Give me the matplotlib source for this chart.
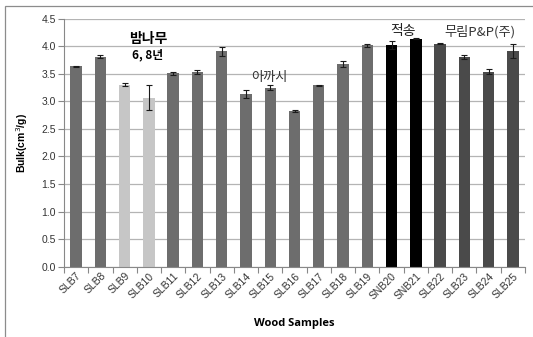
import matplotlib.pyplot as plt
import numpy as np
from matplotlib.patches import Rectangle

samples = ['SLB7', 'SLB8', 'SLB9', 'SLB10', 'SLB11', 'SLB12', 'SLB13', 'SLB14', 'SLB15',
           'SLB16', 'SLB17', 'SLB18', 'SLB19', 'SNB20', 'SNB21', 'SLB22', 'SLB23', 'SLB24', 'SLB25']
bulk = [3.64, 3.81, 3.30, 3.07, 3.51, 3.53, 3.91, 3.13, 3.25,
        2.82, 3.29, 3.68, 4.02, 4.02, 4.14, 4.05, 3.81, 3.54, 3.91]
err = [0.01, 0.03, 0.03, 0.23, 0.03, 0.04, 0.08, 0.07, 0.04,
       0.02, 0.01, 0.06, 0.03, 0.07, 0.01, 0.01, 0.04, 0.05, 0.13]
groups = ['mid', 'mid', 'light', 'light', 'mid', 'mid', 'mid', 'mid', 'mid',
          'mid', 'mid', 'mid', 'mid', 'black', 'black', 'dark', 'dark', 'dark', 'dark']
group_colors = {'mid': '#6d6d6d', 'light': '#c6c6c6', 'black': '#000000', 'dark': '#4a4a4a'}

kor = ['Noto Sans CJK KR', 'DejaVu Sans']
plt.rcParams['font.family'] = ['Liberation Sans', 'DejaVu Sans']

fig = plt.figure(figsize=(5.33, 3.37), dpi=100)
ax = fig.add_axes([64 / 533, 1 - 266.7 / 337, 461 / 533, 248 / 337])

x = np.arange(len(samples))
colors = [group_colors[g] for g in groups]
ax.bar(x, bulk, width=0.47, color=colors, zorder=2)
ax.errorbar(x, bulk, yerr=err, fmt='none', ecolor='#1a1a1a', elinewidth=0.8,
            capsize=2.5, capthick=0.8, zorder=3)

ax.set_xlim(-0.5, len(samples) - 0.5)
ax.set_ylim(0, 4.5)
ax.set_yticks(np.arange(0, 4.51, 0.5))
ax.set_yticklabels([f"{v:.1f}" for v in np.arange(0, 4.51, 0.5)], fontsize=7.5, color='#333333')
ax.yaxis.grid(True, color='#b4b4b4', linewidth=0.9, zorder=0)
ax.set_axisbelow(True)

ax.set_xticks(x)
ax.set_xticklabels(samples, rotation=45, ha='right', rotation_mode='anchor', fontsize=7.5, color='#333333')
ax.tick_params(axis='x', length=0, pad=3)
ax.set_xticks(np.arange(-0.5, len(samples)), minor=True)
ax.tick_params(axis='x', which='minor', length=4, color='#888888', width=0.8)
ax.tick_params(axis='y', length=4, color='#888888', width=0.8, pad=2)

for side in ['top', 'right']:
    ax.spines[side].set_visible(False)
for side in ['left', 'bottom']:
    ax.spines[side].set_color('#888888')
    ax.spines[side].set_linewidth(0.8)

ax.set_ylabel('Bulk(cm$^3$/g)', fontsize=7.5, fontweight='bold', labelpad=8)
ax.set_xlabel('Wood Samples', fontsize=8, fontweight='bold', labelpad=12,
              family=['Open Sans', 'DejaVu Sans'])

# group labels
ax.text(2.95, 4.14, '밤나무', ha='center', va='center', fontsize=10, fontweight='bold', family=kor)
ax.text(2.95, 3.84, '6, 8년', ha='center', va='center', fontsize=8.5, fontweight='bold', family=kor)
ax.text(7.95, 3.43, '아까시', ha='center', va='center', fontsize=9.5, color='#333333', family=kor)
ax.text(13.47, 4.27, '적송', ha='center', va='center', fontsize=10, color='#222222', family=kor)
ax.text(16.65, 4.27, '무림P&P(주)', ha='center', va='center', fontsize=9.5, color='#333333', family=kor)

# chart frame (only top and left edges fall inside the image)
fig.patches.append(Rectangle((5 / 533, -0.05), 1.0, 1.05 - 6 / 337, transform=fig.transFigure,
                             fill=False, edgecolor='#8c8c8c', linewidth=0.9))

fig.savefig('out.png', dpi=100)
